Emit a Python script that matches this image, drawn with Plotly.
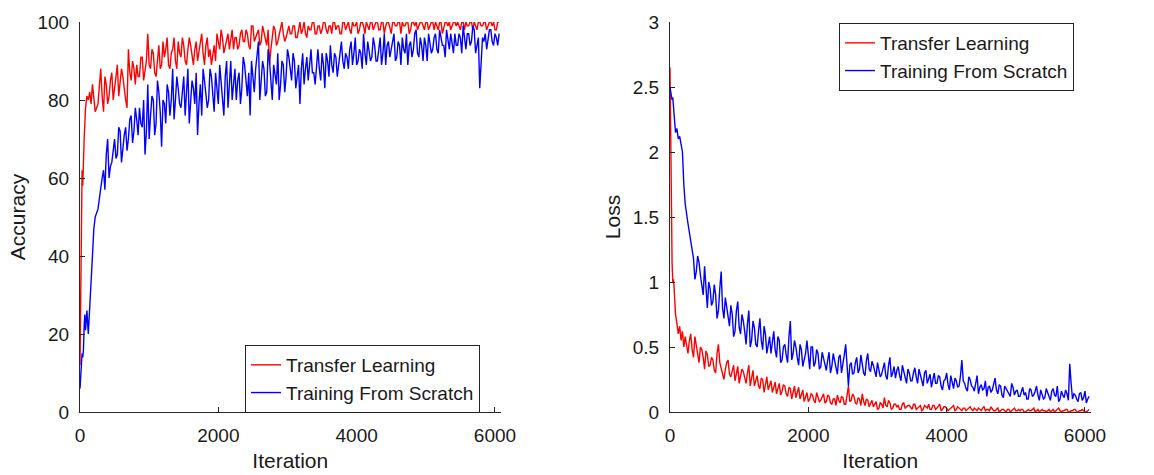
import plotly.graph_objects as go

# Iteration sample points: dense at the very start, then every 40 iterations,
# plus the in-between points (every 40 iterations, offset by 20)
iter_start = [0, 10, 20, 30, 40, 50, 60, 70, 80, 100, 120, 140, 160, 180, 200, 220]
iter_main = list(range(260, 6061, 40))
iter_mid = list(range(280, 6041, 40))

acc_transfer_main = [
    12, 30, 55, 62, 58, 68, 70, 74, 78, 81, 80, 82, 79, 84, 80, 77,
    79, 88, 77, 84, 81, 87, 83, 89, 84, 86,
    80, 93, 85, 88, 89, 86, 91, 87, 97, 88,
    92, 86, 94, 89, 91, 96, 88, 93, 90, 95,
    91, 94, 89, 96, 92, 93, 90, 95, 92, 94,
    91, 89, 94, 97, 93, 96, 94, 97, 95, 93,
    96, 94, 98, 95, 97, 93, 99, 96, 98, 95,
    97, 94, 89, 96, 98, 95, 99, 97, 96, 99,
    97, 99, 96, 100, 98, 97, 99, 98, 100, 97,
    99, 98, 100, 97, 99, 100, 98, 99, 97, 100,
    99, 98, 100, 99, 97, 100, 99, 100, 98, 100,
    99, 100, 98, 100, 99, 100, 97, 100, 99, 100,
    100, 99, 100, 98, 100, 100, 99, 100, 98, 100,
    99, 100, 100, 98, 100, 99, 100, 100, 99, 100,
    100, 98, 100, 100, 99, 100, 100, 98, 100, 99,
    100, 99, 100, 100, 98, 100,
]
acc_transfer_mid = [
    84, 81, 86, 79, 85, 80, 86, 81, 88, 82,
    78, 87, 90, 84, 86, 91, 85, 90, 89, 93,
    87, 91, 88, 95, 93, 89, 92, 96, 88, 92,
    96, 90, 93, 94, 89, 95, 92, 97, 89, 96,
    93, 92, 90, 95, 98, 92, 95, 93, 98, 96,
    93, 97, 95, 98, 94, 99, 95, 97, 94, 99,
    95, 98, 93, 99, 94, 97, 100, 95, 98, 97,
    99, 96, 98, 97, 100, 96, 98, 100, 97, 99,
    97, 100, 98, 99, 97, 100, 99, 97, 100, 98,
    100, 97, 99, 100, 98, 100, 97, 99, 100, 98,
    100, 98, 100, 97, 100, 98, 100, 99, 100, 97,
    99, 100, 97, 100, 99, 98, 100, 99, 100, 98,
    100, 98, 99, 100, 97, 100, 99, 98, 100, 99,
    99, 100, 98, 99, 100, 98, 99, 100, 99, 100,
    98, 100, 99, 98, 100,
]

acc_scratch_main = [
    6, 9, 12, 15, 14, 16, 22, 25, 21, 26, 20, 28, 33, 40, 47, 50,
    52, 58, 62, 66, 60, 64, 70, 66, 72, 68,
    73, 70, 76, 72, 75, 78, 73, 66, 84, 76,
    80, 74, 82, 68, 79, 84, 76, 88, 80, 83,
    78, 86, 81, 74, 85, 79, 71, 84, 88, 82,
    80, 86, 77, 83, 89, 81, 86, 78, 90, 84,
    80, 87, 83, 89, 81, 76, 86, 88, 95, 84,
    88, 82, 90, 80, 87, 92, 84, 89, 86, 91,
    85, 90, 86, 79, 92, 88, 85, 93, 87, 90,
    88, 92, 83, 90, 94, 87, 91, 89, 95, 88,
    91, 93, 89, 96, 90, 92, 97, 89, 93, 91,
    94, 90, 96, 92, 89, 95, 93, 97, 91, 94,
    96, 92, 89, 95, 93, 98, 91, 94, 96, 90,
    95, 93, 97, 92, 96, 94, 98, 93, 95, 97,
    94, 96, 99, 93, 97, 95, 98, 94, 83, 96,
    97, 95, 98, 94, 96, 97,
]
acc_scratch_mid = [
    55, 60, 57, 70, 63, 68, 65, 73, 64, 71,
    67, 75, 69, 78, 71, 74, 80, 72, 70, 81,
    71, 85, 77, 80, 74, 82, 80, 75, 86, 79,
    82, 76, 88, 80, 83, 87, 79, 76, 85, 78,
    88, 82, 87, 79, 85, 76, 90, 84, 80, 88,
    85, 79, 91, 85, 87, 90, 82, 91, 80, 90,
    81, 93, 85, 89, 84, 80, 90, 82, 93, 87,
    92, 83, 89, 88, 84, 91, 89, 87, 84, 93,
    85, 89, 92, 86, 89, 92, 86, 93, 90, 92,
    88, 95, 92, 89, 93, 88, 92, 95, 90, 96,
    90, 93, 89, 97, 94, 91, 96, 90, 95, 89,
    93, 97, 94, 91, 97, 92, 96, 90, 94, 97,
    92, 96, 93, 98, 94, 91, 95, 97, 92, 94,
    97, 92, 95, 97, 94, 99, 92, 96, 91, 95,
    93, 98, 95, 97, 94,
]

loss_transfer_main = [
    2.65, 1.9, 1.4, 1.15, 1.0, 1.02, 0.95, 0.85, 0.75, 0.68, 0.6, 0.66, 0.55, 0.62, 0.5, 0.58,
    0.45, 0.6, 0.42, 0.52, 0.38, 0.48, 0.33, 0.44, 0.36, 0.4,
    0.3, 0.52, 0.34, 0.25, 0.38, 0.29, 0.33, 0.24, 0.35, 0.27,
    0.31, 0.22, 0.36, 0.26, 0.2, 0.28, 0.18, 0.25, 0.21, 0.17,
    0.24, 0.19, 0.14, 0.22, 0.16, 0.2, 0.12, 0.18, 0.15, 0.11,
    0.19, 0.13, 0.08, 0.15, 0.1, 0.13, 0.07, 0.12, 0.09, 0.14,
    0.08, 0.12, 0.06, 0.1, 0.13, 0.07, 0.11, 0.06, 0.2, 0.09,
    0.12, 0.06, 0.1, 0.14, 0.05, 0.09, 0.07, 0.04, 0.08, 0.03,
    0.06, 0.11, 0.04, 0.07, 0.03, 0.06, 0.05, 0.02, 0.07, 0.04,
    0.05, 0.02, 0.06, 0.03, 0.05, 0.02, 0.04, 0.06, 0.02, 0.05,
    0.03, 0.06, 0.02, 0.04, 0.01, 0.03, 0.05, 0.02, 0.03, 0.01,
    0.03, 0.02, 0.04, 0.01, 0.02, 0.03, 0.01, 0.04, 0.02, 0.01,
    0.02, 0.01, 0.03, 0.01, 0.02, 0.0, 0.02, 0.01, 0.03, 0.01,
    0.01, 0.02, 0.0, 0.02, 0.01, 0.03, 0.01, 0.0, 0.02, 0.01,
    0.01, 0.0, 0.02, 0.01, 0.03, 0.0, 0.01, 0.02, 0.0, 0.01,
    0.02, 0.0, 0.01, 0.01, 0.0, 0.02,
]
loss_transfer_mid = [
    0.55, 0.48, 0.58, 0.44, 0.5, 0.42, 0.47, 0.35, 0.42, 0.32,
    0.45, 0.38, 0.28, 0.33, 0.4, 0.27, 0.36, 0.3, 0.22, 0.33,
    0.26, 0.3, 0.2, 0.32, 0.24, 0.2, 0.26, 0.15, 0.27, 0.2,
    0.15, 0.23, 0.18, 0.13, 0.21, 0.14, 0.19, 0.1, 0.2, 0.16,
    0.1, 0.17, 0.12, 0.08, 0.14, 0.09, 0.15, 0.08, 0.11, 0.07,
    0.13, 0.07, 0.1, 0.05, 0.09, 0.12, 0.06, 0.13, 0.08, 0.14,
    0.07, 0.11, 0.05, 0.08, 0.1, 0.04, 0.09, 0.06, 0.02, 0.07,
    0.03, 0.05, 0.09, 0.02, 0.06, 0.04, 0.02, 0.06, 0.03, 0.05,
    0.03, 0.06, 0.02, 0.04, 0.01, 0.05, 0.03, 0.02, 0.05, 0.02,
    0.05, 0.01, 0.04, 0.03, 0.02, 0.04, 0.01, 0.04, 0.02, 0.03,
    0.01, 0.03, 0.02, 0.03, 0.01, 0.02, 0.03, 0.01, 0.02, 0.04,
    0.01, 0.02, 0.0, 0.02, 0.01, 0.02, 0.0, 0.02, 0.01, 0.02,
    0.02, 0.0, 0.01, 0.01, 0.02, 0.0, 0.02, 0.01, 0.01, 0.0,
    0.02, 0.01, 0.0, 0.02, 0.01, 0.01, 0.02, 0.0, 0.01, 0.02,
    0.0, 0.01, 0.02, 0.0, 0.01,
]

loss_scratch_main = [
    2.5, 2.47, 2.45, 2.4, 2.42, 2.35, 2.3, 2.2, 2.15, 2.18, 2.1, 2.12, 2.05, 2.0, 1.75, 1.6,
    1.45, 1.3, 1.18, 1.08, 1.15, 0.98, 1.12, 0.8, 0.95, 0.85,
    0.9, 0.78, 1.08, 0.72, 0.8, 0.66, 0.75, 0.62, 0.85, 0.6,
    0.7, 0.52, 0.78, 0.55, 0.65, 0.5, 0.72, 0.48, 0.6, 0.52,
    0.45, 0.62, 0.42, 0.55, 0.4, 0.52, 0.38, 0.7, 0.45, 0.5,
    0.36, 0.48, 0.4, 0.55, 0.33, 0.5, 0.38, 0.45, 0.35, 0.42,
    0.32, 0.46, 0.35, 0.4, 0.29, 0.44, 0.36, 0.52, 0.2, 0.38,
    0.3, 0.42, 0.33, 0.38, 0.28, 0.45, 0.31, 0.36, 0.27, 0.33,
    0.29, 0.38, 0.25, 0.42, 0.3, 0.26, 0.35, 0.24, 0.31, 0.22,
    0.3, 0.24, 0.34, 0.22, 0.28, 0.2, 0.32, 0.25, 0.19, 0.3,
    0.22, 0.27, 0.17, 0.25, 0.21, 0.28, 0.18, 0.24, 0.2, 0.4,
    0.22, 0.16, 0.25, 0.19, 0.23, 0.14, 0.21, 0.18, 0.12, 0.2,
    0.17, 0.26, 0.14, 0.2, 0.11, 0.18, 0.15, 0.22, 0.13, 0.17,
    0.12, 0.19, 0.15, 0.1, 0.17, 0.13, 0.2, 0.09, 0.14, 0.11,
    0.15, 0.09, 0.18, 0.12, 0.08, 0.16, 0.11, 0.14, 0.37, 0.1,
    0.13, 0.08, 0.15, 0.11, 0.07, 0.12,
]
loss_scratch_mid = [
    1.38, 1.22, 1.02, 1.2, 1.05, 0.9, 0.95, 1.0, 0.82, 0.98,
    0.72, 0.95, 0.8, 0.88, 0.7, 0.82, 0.58, 0.78, 0.65, 0.75,
    0.62, 0.68, 0.5, 0.7, 0.52, 0.62, 0.55, 0.66, 0.45, 0.58,
    0.55, 0.48, 0.58, 0.38, 0.5, 0.44, 0.58, 0.4, 0.55, 0.42,
    0.52, 0.35, 0.45, 0.4, 0.5, 0.35, 0.48, 0.33, 0.46, 0.36,
    0.4, 0.3, 0.45, 0.33, 0.42, 0.3, 0.44, 0.34, 0.36, 0.29,
    0.38, 0.3, 0.44, 0.3, 0.4, 0.33, 0.39, 0.3, 0.38, 0.27,
    0.34, 0.28, 0.36, 0.27, 0.35, 0.32, 0.28, 0.36, 0.26, 0.33,
    0.24, 0.3, 0.27, 0.33, 0.23, 0.3, 0.22, 0.29, 0.26, 0.22,
    0.28, 0.2, 0.24, 0.3, 0.17, 0.23, 0.26, 0.19, 0.28, 0.24,
    0.18, 0.27, 0.2, 0.16, 0.28, 0.19, 0.17, 0.24, 0.19, 0.15,
    0.22, 0.17, 0.21, 0.13, 0.2, 0.16, 0.12, 0.19, 0.16, 0.12,
    0.16, 0.13, 0.1, 0.18, 0.12, 0.16, 0.13, 0.17, 0.1, 0.18,
    0.11, 0.16, 0.13, 0.2, 0.1, 0.13, 0.17, 0.09, 0.22, 0.14,
    0.1, 0.14, 0.09, 0.16, 0.1,
]

series_names = ["Transfer Learning", "Training From Scratch"]
x_ticks = [0, 2000, 4000, 6000]
acc_ticks = [0, 20, 40, 60, 80, 100]
loss_ticks = [0, 0.5, 1, 1.5, 2, 2.5, 3]
loss_tick_text = ["0", "0.5", "1", "1.5", "2", "2.5", "3"]


def merge(main_vals, mid_vals):
    """Combine the main samples and in-between samples into one ordered series."""
    pts = list(zip(iter_start + iter_main, main_vals)) + list(zip(iter_mid, mid_vals))
    pts.sort(key=lambda p: p[0])
    return [p[0] for p in pts], [p[1] for p in pts]


RED = "#ff0000"
BLUE = "#0000ff"
FONT = "Liberation Sans, Arial, sans-serif"
AX = "#262626"
TXT = "#1a1a1a"
LW = 1.4

fig = go.Figure()
for vals_main, vals_mid, name, color, xa, ya, lg in [
    (acc_transfer_main, acc_transfer_mid, series_names[0], RED, "x", "y", "legend"),
    (acc_scratch_main, acc_scratch_mid, series_names[1], BLUE, "x", "y", "legend"),
    (loss_transfer_main, loss_transfer_mid, series_names[0], RED, "x2", "y2", "legend2"),
    (loss_scratch_main, loss_scratch_mid, series_names[1], BLUE, "x2", "y2", "legend2"),
]:
    xs, ys = merge(vals_main, vals_mid)
    fig.add_trace(go.Scatter(x=xs, y=ys, mode="lines", name=name,
                             line=dict(color=color, width=LW),
                             xaxis=xa, yaxis=ya, legend=lg))

W, H = 1154, 475
ydom = [63 / H, 453 / H]

common_x = dict(range=[0, 6080], tickvals=x_ticks, ticktext=[str(v) for v in x_ticks],
                showline=True, linecolor=AX, linewidth=1.2, ticks="inside", ticklen=5,
                tickcolor=AX, showgrid=False, zeroline=False, mirror=False,
                tickfont=dict(family=FONT, size=19, color=TXT),
                title=dict(text="Iteration", font=dict(family=FONT, size=21, color=TXT), standoff=8),
                ticklabelstandoff=6, automargin=False)
common_y = dict(showline=True, linecolor=AX, linewidth=1.2, ticks="inside", ticklen=5,
                tickcolor=AX, showgrid=False, zeroline=False, mirror=False,
                tickfont=dict(family=FONT, size=19, color=TXT),
                ticklabelstandoff=6, automargin=False)

legend_style = dict(xanchor="left", yanchor="top", bordercolor="#222", borderwidth=1,
                    bgcolor="white", font=dict(family=FONT, size=19, color=TXT),
                    tracegroupgap=0, itemwidth=30, entrywidth=205, entrywidthmode="pixels")

fig.update_layout(
    width=W, height=H,
    margin=dict(l=0, r=0, t=0, b=0, autoexpand=False),
    paper_bgcolor="white", plot_bgcolor="white",
    xaxis=dict(domain=[80 / W, 500.5 / W], anchor="y", **common_x),
    yaxis=dict(domain=ydom, anchor="x", range=[0, 100], tickvals=acc_ticks,
               title=dict(text="Accuracy", font=dict(family=FONT, size=21, color=TXT), standoff=6),
               **common_y),
    xaxis2=dict(domain=[670 / W, 1090.5 / W], anchor="y2", **common_x),
    yaxis2=dict(domain=ydom, anchor="x2", range=[0, 3], tickvals=loss_ticks, ticktext=loss_tick_text,
                title=dict(text="Loss", font=dict(family=FONT, size=21, color=TXT), standoff=6),
                **common_y),
    legend=dict(x=245 / W, y=(H - 345) / H, **legend_style),
    legend2=dict(x=839 / W, y=(H - 23) / H, **legend_style),
    showlegend=True,
)

fig.write_html("out.html",
               config={"displayModeBar": False},
               post_script="document.body.style.margin='0px';document.body.style.overflow='hidden';")
